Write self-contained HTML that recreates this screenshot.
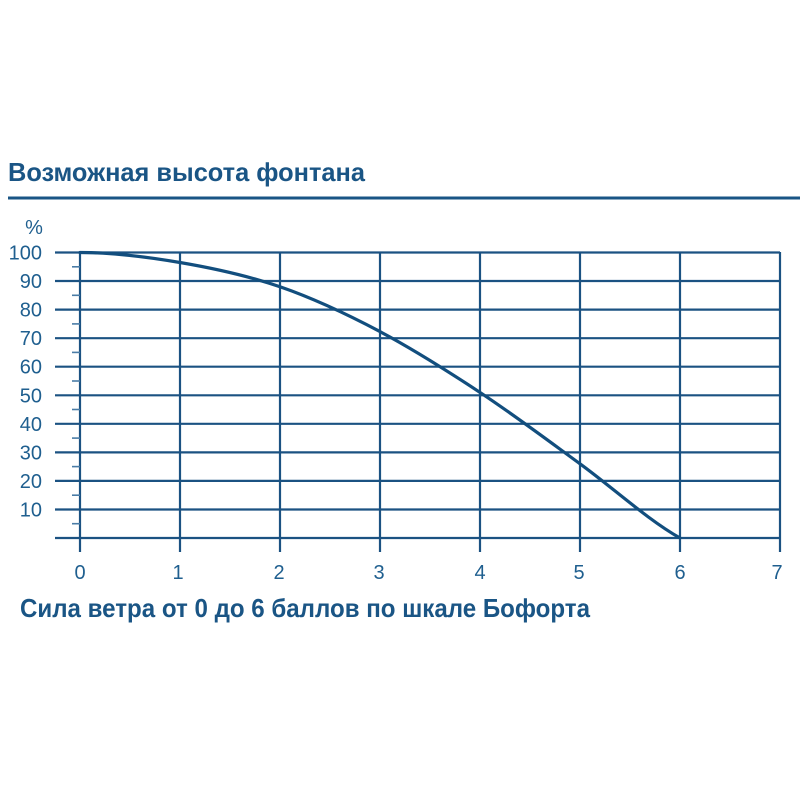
<!DOCTYPE html>
<html>
<head>
<meta charset="utf-8">
<style>
html,body{margin:0;padding:0;background:#fff;}
svg{display:block;}
</style>
</head>
<body>
<svg width="800" height="800" viewBox="0 0 800 800" xmlns="http://www.w3.org/2000/svg">
<rect width="800" height="800" fill="#fff"/>
<text x="8" y="181" font-family="Liberation Sans, sans-serif" font-size="26" font-weight="bold" fill="#1a5585" textLength="357" lengthAdjust="spacingAndGlyphs">Возможная высота фонтана</text>
<rect x="8" y="196.5" width="792" height="3" fill="#1a5585"/>
<text x="34" y="234" text-anchor="middle" font-family="Liberation Sans, sans-serif" font-size="20" fill="#1f5f8f">%</text>
<g stroke="#1b5282" stroke-width="2.2" fill="none">
<line x1="55" y1="252.5" x2="780" y2="252.5"/>
<line x1="55" y1="281" x2="780" y2="281"/>
<line x1="55" y1="309.6" x2="780" y2="309.6"/>
<line x1="55" y1="338.2" x2="780" y2="338.2"/>
<line x1="55" y1="366.7" x2="780" y2="366.7"/>
<line x1="55" y1="395.3" x2="780" y2="395.3"/>
<line x1="55" y1="423.8" x2="780" y2="423.8"/>
<line x1="55" y1="452.4" x2="780" y2="452.4"/>
<line x1="55" y1="480.9" x2="780" y2="480.9"/>
<line x1="55" y1="509.5" x2="780" y2="509.5"/>
<line x1="55" y1="538" x2="780" y2="538"/>
<line x1="80" y1="252" x2="80" y2="552"/>
<line x1="180" y1="252" x2="180" y2="552"/>
<line x1="280" y1="252" x2="280" y2="552"/>
<line x1="380" y1="252" x2="380" y2="552"/>
<line x1="480" y1="252" x2="480" y2="552"/>
<line x1="580" y1="252" x2="580" y2="552"/>
<line x1="680" y1="252" x2="680" y2="552"/>
<line x1="780" y1="252" x2="780" y2="552"/>
</g>
<g stroke="#4a7ca6" stroke-width="1.6">
<line x1="72" y1="266.8" x2="80" y2="266.8"/>
<line x1="72" y1="295.3" x2="80" y2="295.3"/>
<line x1="72" y1="323.9" x2="80" y2="323.9"/>
<line x1="72" y1="352.4" x2="80" y2="352.4"/>
<line x1="72" y1="381" x2="80" y2="381"/>
<line x1="72" y1="409.5" x2="80" y2="409.5"/>
<line x1="72" y1="438.1" x2="80" y2="438.1"/>
<line x1="72" y1="466.6" x2="80" y2="466.6"/>
<line x1="72" y1="495.2" x2="80" y2="495.2"/>
<line x1="72" y1="523.7" x2="80" y2="523.7"/>
</g>
<path d="M80,252.5 C113,252.5 146.7,256.8 180,262.5 C213.3,268.2 246.7,275.3 280,286.8 C313.3,298.3 346.7,314 380,331.6 C413.3,349.2 446.7,370.4 480,392.4 C513.3,414.4 546.7,439.5 580,463.8 C613.3,488.1 648,520 680,538" stroke="#124e7e" stroke-width="3.2" fill="none" stroke-linecap="round"/>
<g font-family="Liberation Sans, sans-serif" font-size="20" fill="#1f5f8f" text-anchor="end">
<text x="42" y="259.5">100</text>
<text x="42" y="288">90</text>
<text x="42" y="316.6">80</text>
<text x="42" y="345.2">70</text>
<text x="42" y="373.7">60</text>
<text x="42" y="402.3">50</text>
<text x="42" y="430.8">40</text>
<text x="42" y="459.4">30</text>
<text x="42" y="487.9">20</text>
<text x="42" y="516.5">10</text>
</g>
<g font-family="Liberation Sans, sans-serif" font-size="20" fill="#1f5f8f" text-anchor="middle">
<text x="80" y="579">0</text>
<text x="178" y="579">1</text>
<text x="279" y="579">2</text>
<text x="379" y="579">3</text>
<text x="480" y="579">4</text>
<text x="579" y="579">5</text>
<text x="680" y="579">6</text>
<text x="777" y="579">7</text>
</g>
<text x="20" y="617" font-family="Liberation Sans, sans-serif" font-size="26" font-weight="bold" fill="#1a5585" textLength="570" lengthAdjust="spacingAndGlyphs">Сила ветра от 0 до 6 баллов по шкале Бофорта</text>
</svg>
</body>
</html>
